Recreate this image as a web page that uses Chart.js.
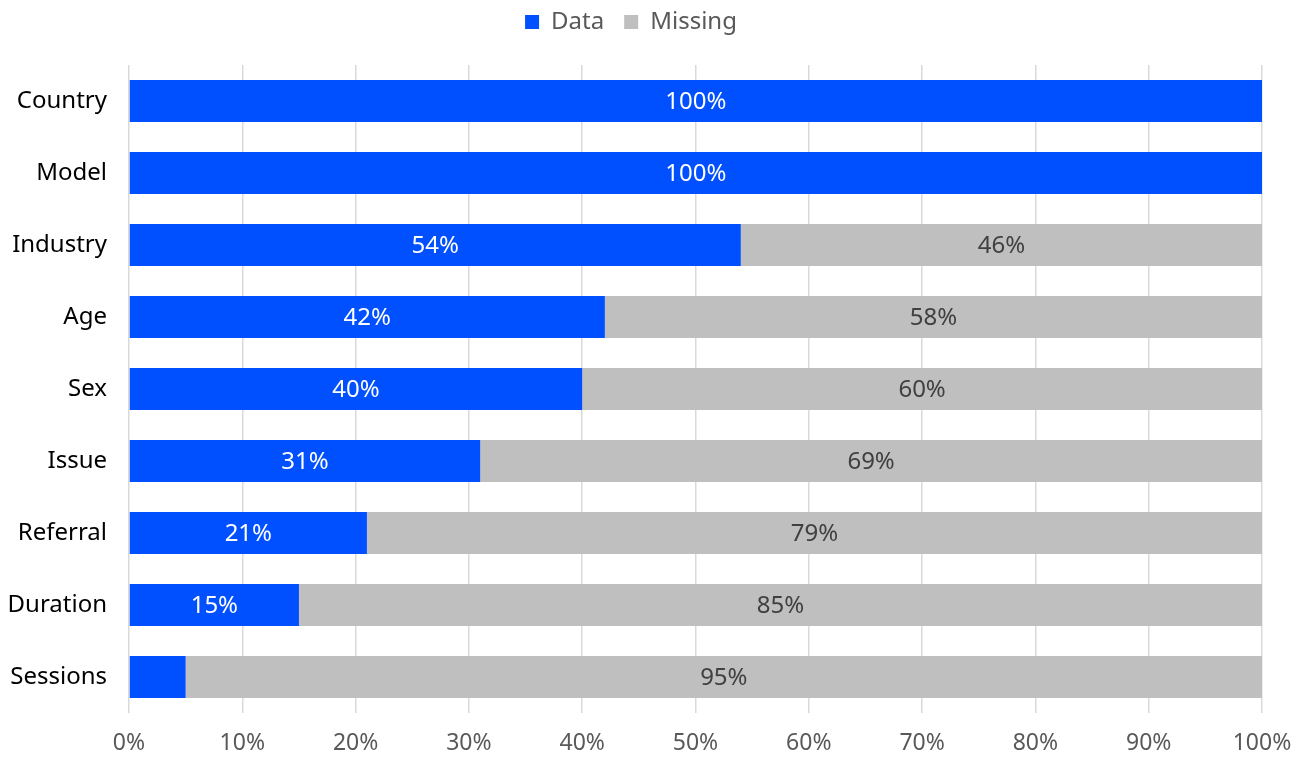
<!DOCTYPE html>
<html>
<head>
<meta charset="utf-8">
<script src="https://cdn.jsdelivr.net/npm/chart.js@4.4.1/dist/chart.umd.min.js"></script>
<style>
html,body{margin:0;padding:0;background:#fff;}
#wrap{width:1309px;height:758px;position:relative;}
</style>
</head>
<body>
<div id="wrap"><canvas id="c"></canvas></div>
<script>
const categories = ["Country","Model","Industry","Age","Sex","Issue","Referral","Duration","Sessions"];
const dataValues = [100,100,54,42,40,31,21,15,5];
const missingValues = [0,0,46,58,60,69,79,85,95];
const tickLabels = ["0%","10%","20%","30%","40%","50%","60%","70%","80%","90%","100%"];

const FONT = "'Noto Sans', 'Open Sans', sans-serif";

const labelPlugin = {
  id: 'segLabels',
  afterDatasetsDraw(chart) {
    const ctx = chart.ctx;
    ctx.save();
    ctx.font = "24px " + FONT;
    ctx.textAlign = 'center';
    ctx.textBaseline = 'middle';
    chart.data.datasets.forEach((ds, di) => {
      const meta = chart.getDatasetMeta(di);
      meta.data.forEach((el, i) => {
        const v = ds.data[i];
        if (v < 10) return;
        const p = el.getCenterPoint();
        ctx.fillStyle = di === 0 ? '#ffffff' : '#404040';
        ctx.fillText(v + '%', p.x, p.y + 1);
      });
    });
    ctx.restore();
  }
};

const legendSpace = {
  id: 'legendSpace',
  beforeInit(chart) {
    const lg = chart.legend;
    const origFit = lg.fit;
    lg.fit = function () {
      origFit.call(this);
      this.height += 11;
    };
    const origDraw = lg.draw;
    lg.draw = function (a) {
      const ctx = this.ctx;
      ctx.save();
      ctx.translate(0, -10);
      origDraw.call(this, a);
      ctx.restore();
    };
  }
};

new Chart(document.getElementById('c'), {
  type: 'bar',
  data: {
    labels: categories,
    datasets: [
      { label: 'Data', data: dataValues, backgroundColor: '#0050FF', categoryPercentage: 1, barPercentage: 0.58 },
      { label: 'Missing', data: missingValues, backgroundColor: '#BFBFBF', categoryPercentage: 1, barPercentage: 0.58 }
    ]
  },
  options: {
    indexAxis: 'y',
    responsive: true,
    maintainAspectRatio: false,
    animation: false,
    layout: { padding: { left: 0, right: 47, top: 0, bottom: 0 } },
    plugins: {
      legend: {
        position: 'top',
        labels: {
          boxWidth: 14, boxHeight: 14, color: '#595959',
          font: { family: FONT, size: 24 }, padding: 20
        }
      },
      tooltip: { enabled: false }
    },
    scales: {
      x: {
        stacked: true, min: 0, max: 100,
        ticks: { stepSize: 10, color: '#595959', font: { family: FONT, size: 23 }, padding: 17,
          callback: (v, i) => tickLabels[i] },
        grid: { color: '#D9D9D9', drawTicks: false, lineWidth: 1.5 },
        border: { display: false },
        afterFit(scale) { scale.height = 45; }
      },
      y: {
        stacked: true,
        ticks: { color: '#000000', font: { family: FONT, size: 24 }, padding: 22 },
        grid: { display: false, drawTicks: false },
        border: { display: false },
        afterFit(scale) { scale.width = 129; }
      }
    }
  },
  plugins: [labelPlugin, legendSpace]
});
</script>
</body>
</html>
